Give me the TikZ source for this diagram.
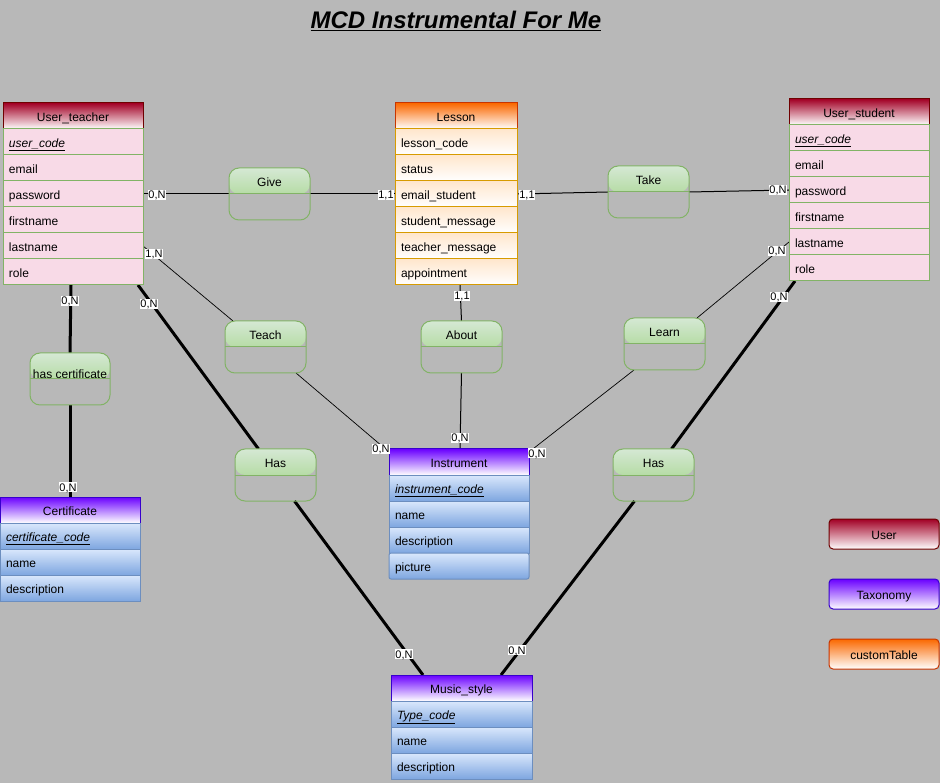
\documentclass[tikz,border=0pt]{standalone}
\usepackage{fontspec}
\setmainfont{Liberation Sans}
\usetikzlibrary{calc,positioning}
\pgfdeclarelayer{background}
\pgfsetlayers{background,main}

\definecolor{canvas}{HTML}{B8B8B8}
\definecolor{userred}{HTML}{A20025}
\definecolor{userdark}{HTML}{6F0000}
\definecolor{userrow}{HTML}{F8DAE7}
\definecolor{usergreen}{HTML}{82B366}
\definecolor{lessonorange}{HTML}{FA6800}
\definecolor{lessondark}{HTML}{C73500}
\definecolor{lessonrow}{HTML}{FFE6CC}
\definecolor{lessonborder}{HTML}{D79B00}
\definecolor{taxpurple}{HTML}{6A00FF}
\definecolor{taxdark}{HTML}{3700CC}
\definecolor{taxtop}{HTML}{DAE8FC}
\definecolor{taxbot}{HTML}{7EA6E0}
\definecolor{taxborder}{HTML}{6C8EBF}
\definecolor{assoctop}{HTML}{D5E8D4}
\definecolor{assocbot}{HTML}{97D077}

\tikzset{
  base/.style={font=\fontsize{12}{14}\selectfont},
  thead/.style={base, rectangle, anchor=north west, minimum height=26, inner sep=0, outer sep=0,
    line width=1pt, text height=11.5, text depth=0.5},
  trow/.style={base, rectangle, anchor=north, minimum height=26, inner xsep=6, inner ysep=0,
    outer sep=0, line width=1pt, align=left, text height=11.5, text depth=0.5},
  userhead/.style={thead, top color=userred, bottom color=white, draw=userdark},
  userrowst/.style={trow, text width=128, fill=userrow, draw=usergreen},
  lessonhead/.style={thead, top color=lessonorange, bottom color=white, draw=lessondark},
  lessonrowst/.style={trow, text width=110, top color=lessonrow, bottom color=white, draw=lessonborder},
  taxhead/.style={thead, top color=taxpurple, bottom color=white, draw=taxdark},
  taxrowst/.style={trow, text width=#1, top color=taxtop, bottom color=taxbot, draw=taxborder},
  assoc/.style={rectangle, rounded corners=10pt, minimum width=81, minimum height=52,
    draw=usergreen, line width=1pt, inner sep=0, outer sep=0,
    path picture={
      \shade[top color=assoctop, bottom color=assocbot]
        (path picture bounding box.north west) rectangle (path picture bounding box.east);
      \draw[usergreen, line width=1pt]
        (path picture bounding box.west) -- (path picture bounding box.east);
      \node[base, yshift=-13pt, inner sep=0, text height=11.5, text depth=0.5]
        at (path picture bounding box.north) {#1};
    }},
  legend/.style={base, rectangle, rounded corners=4pt, minimum width=110, minimum height=30,
    inner sep=0, line width=1pt, bottom color=white, text height=10.5, text depth=0.5},
  card/.style={fill=white, inner sep=0.6pt, font=\fontsize{11}{12}\selectfont,
    text height=8.5, text depth=0.5},
  thin/.style={line width=1pt, black},
  thick/.style={line width=3pt, black},
}

\begin{document}
\begin{tikzpicture}[x=1pt, y=-1pt]
\begin{pgfonlayer}{background}
  \fill[canvas] (0,0) rectangle (940,783);
\end{pgfonlayer}
\useasboundingbox (0,0) rectangle (940,783);

% title
\node[font=\fontsize{24}{28}\selectfont\bfseries\itshape] (title) at (456,21)
  {\underline{MCD Instrumental For Me}};

% User_teacher
\node[userhead, minimum width=140] (ut) at (3,103) {User\_teacher};
\node[userrowst, below=0pt of ut] (ut-code) {\underline{\textit{user\_code}}};
\node[userrowst, below=0pt of ut-code] (ut-email) {email};
\node[userrowst, below=0pt of ut-email] (ut-password) {password};
\node[userrowst, below=0pt of ut-password] (ut-first) {firstname};
\node[userrowst, below=0pt of ut-first] (ut-last) {lastname};
\node[userrowst, below=0pt of ut-last] (ut-role) {role};

% User_student
\node[userhead, minimum width=140] (us) at (789,99) {User\_student};
\node[userrowst, below=0pt of us] (us-code) {\underline{\textit{user\_code}}};
\node[userrowst, below=0pt of us-code] (us-email) {email};
\node[userrowst, below=0pt of us-email] (us-password) {password};
\node[userrowst, below=0pt of us-password] (us-first) {firstname};
\node[userrowst, below=0pt of us-first] (us-last) {lastname};
\node[userrowst, below=0pt of us-last] (us-role) {role};

% Lesson
\node[lessonhead, minimum width=122] (lesson) at (395,103) {Lesson};
\node[lessonrowst, below=0pt of lesson] (ls-code) {lesson\_code};
\node[lessonrowst, below=0pt of ls-code] (ls-status) {status};
\node[lessonrowst, below=0pt of ls-status] (ls-email) {email\_student};
\node[lessonrowst, below=0pt of ls-email] (ls-smsg) {student\_message};
\node[lessonrowst, below=0pt of ls-smsg] (ls-tmsg) {teacher\_message};
\node[lessonrowst, below=0pt of ls-tmsg] (ls-appt) {appointment};

% Certificate
\node[taxhead, minimum width=140] (cert) at (0,497) {Certificate};
\node[taxrowst=128, below=0pt of cert] (ce-code) {\underline{\textit{certificate\_code}}};
\node[taxrowst=128, below=0pt of ce-code] (ce-name) {name};
\node[taxrowst=128, below=0pt of ce-name] (ce-desc) {description};

% Instrument
\node[taxhead, minimum width=140] (instr) at (389,449) {Instrument};
\node[taxrowst=128, below=0pt of instr] (in-code) {\underline{\textit{instrument\_code}}};
\node[taxrowst=128, below=0pt of in-code] (in-name) {name};
\node[taxrowst=128, below=0pt of in-name] (in-desc) {description};
\node[taxrowst=128, rounded corners=2pt, below=0pt of in-desc] (in-pic) {picture};

% Music_style
\node[taxhead, minimum width=141] (music) at (391,675) {Music\_style};
\node[taxrowst=129, below=0pt of music] (mu-code) {\underline{\textit{Type\_code}}};
\node[taxrowst=129, below=0pt of mu-code] (mu-name) {name};
\node[taxrowst=129, below=0pt of mu-name] (mu-desc) {description};

% associations
\node[assoc=Give] (give) at (269.5,194) {};
\node[assoc=Take] (take) at (648.5,192) {};
\node[assoc=Teach] (teach) at (265.5,347) {};
\node[assoc=About] (about) at (461.5,347) {};
\node[assoc=Learn] (learn) at (664.5,344) {};
\node[assoc={\raisebox{-7pt}{has certificate}}, minimum width=80] (hascert) at (70,379) {};
\node[assoc=Has] (hasl) at (275.5,475) {};
\node[assoc=Has] (hasr) at (653.5,475) {};

% legend
\node[legend, top color=userred, draw=userdark] (lg-user) at (884,534) {User};
\node[legend, top color=taxpurple, draw=taxdark] (lg-tax) at (884,594) {Taxonomy};
\node[legend, top color=lessonorange, draw=lessondark] (lg-custom) at (884,654) {customTable};

% connectors
\begin{pgfonlayer}{background}
  \draw[thin] (ut-password.east) -- (give.west);
  \draw[thin] (give.east) -- (ls-email.west);
  \draw[thin] (ls-email.east) -- (take.west);
  \draw[thin] (take.east) -- (us-password.west);
  \draw[thin, line width=0.7pt] (ut-last.east) -- ($(teach.north west)+(8,0)$);
  \draw[thin, line width=0.7pt] ($(teach.south east)+(-10,0)$) -- ($(instr.north west)+(0,3)$);
  \draw[thin] ($(ls-appt.south)+(4,0)$) -- (about.north);
  \draw[thin] (about.south) -- ($(instr.north)+(1,0)$);
  \draw[thin, line width=0.7pt] (us-last.west) -- ($(learn.north east)+(-8,0)$);
  \draw[thin, line width=0.7pt] ($(learn.south west)+(10,0)$) -- ($(instr.north east)+(0,3)$);
  \draw[thick] ($(ut-role.south)+(-2,0)$) -- (hascert.north);
  \draw[thick] (hascert.south) -- (cert.north);
  \draw[thick] ($(ut-role.south east)+(-5,0)$) -- ($(hasl.north)+(-17,0)$);
  \draw[thick] ($(hasl.south)+(19,0)$) -- ($(music.north west)+(32,0)$);
  \draw[thick] ($(us-role.south west)+(6,0)$) -- ($(hasr.north)+(18,0)$);
  \draw[thick] ($(hasr.south)+(-19,0)$) -- ($(music.north east)+(-31,0)$);
\end{pgfonlayer}

% cardinalities
\node[card] (c-ut-give) at (157,195) {0,N};
\node[card] (c-give-ls) at (386,195) {1,1};
\node[card] (c-ls-take) at (527,195) {1,1};
\node[card] (c-take-us) at (778,190) {0,N};
\node[card] (c-ut-teach) at (154,254) {1,N};
\node[card] (c-teach-in) at (381,449) {0,N};
\node[card] (c-ls-about) at (462,296) {1,1};
\node[card] (c-about-in) at (460,438) {0,N};
\node[card] (c-us-learn) at (777,251) {0,N};
\node[card] (c-learn-in) at (537,453) {0,N};
\node[card] (c-ut-cert) at (70,301) {0,N};
\node[card] (c-cert) at (68,487) {0,N};
\node[card] (c-ut-has) at (149,304) {0,N};
\node[card] (c-hasl-mu) at (404,654) {0,N};
\node[card] (c-us-has) at (779,297) {0,N};
\node[card] (c-hasr-mu) at (517,650) {0,N};
\end{tikzpicture}
\end{document}
